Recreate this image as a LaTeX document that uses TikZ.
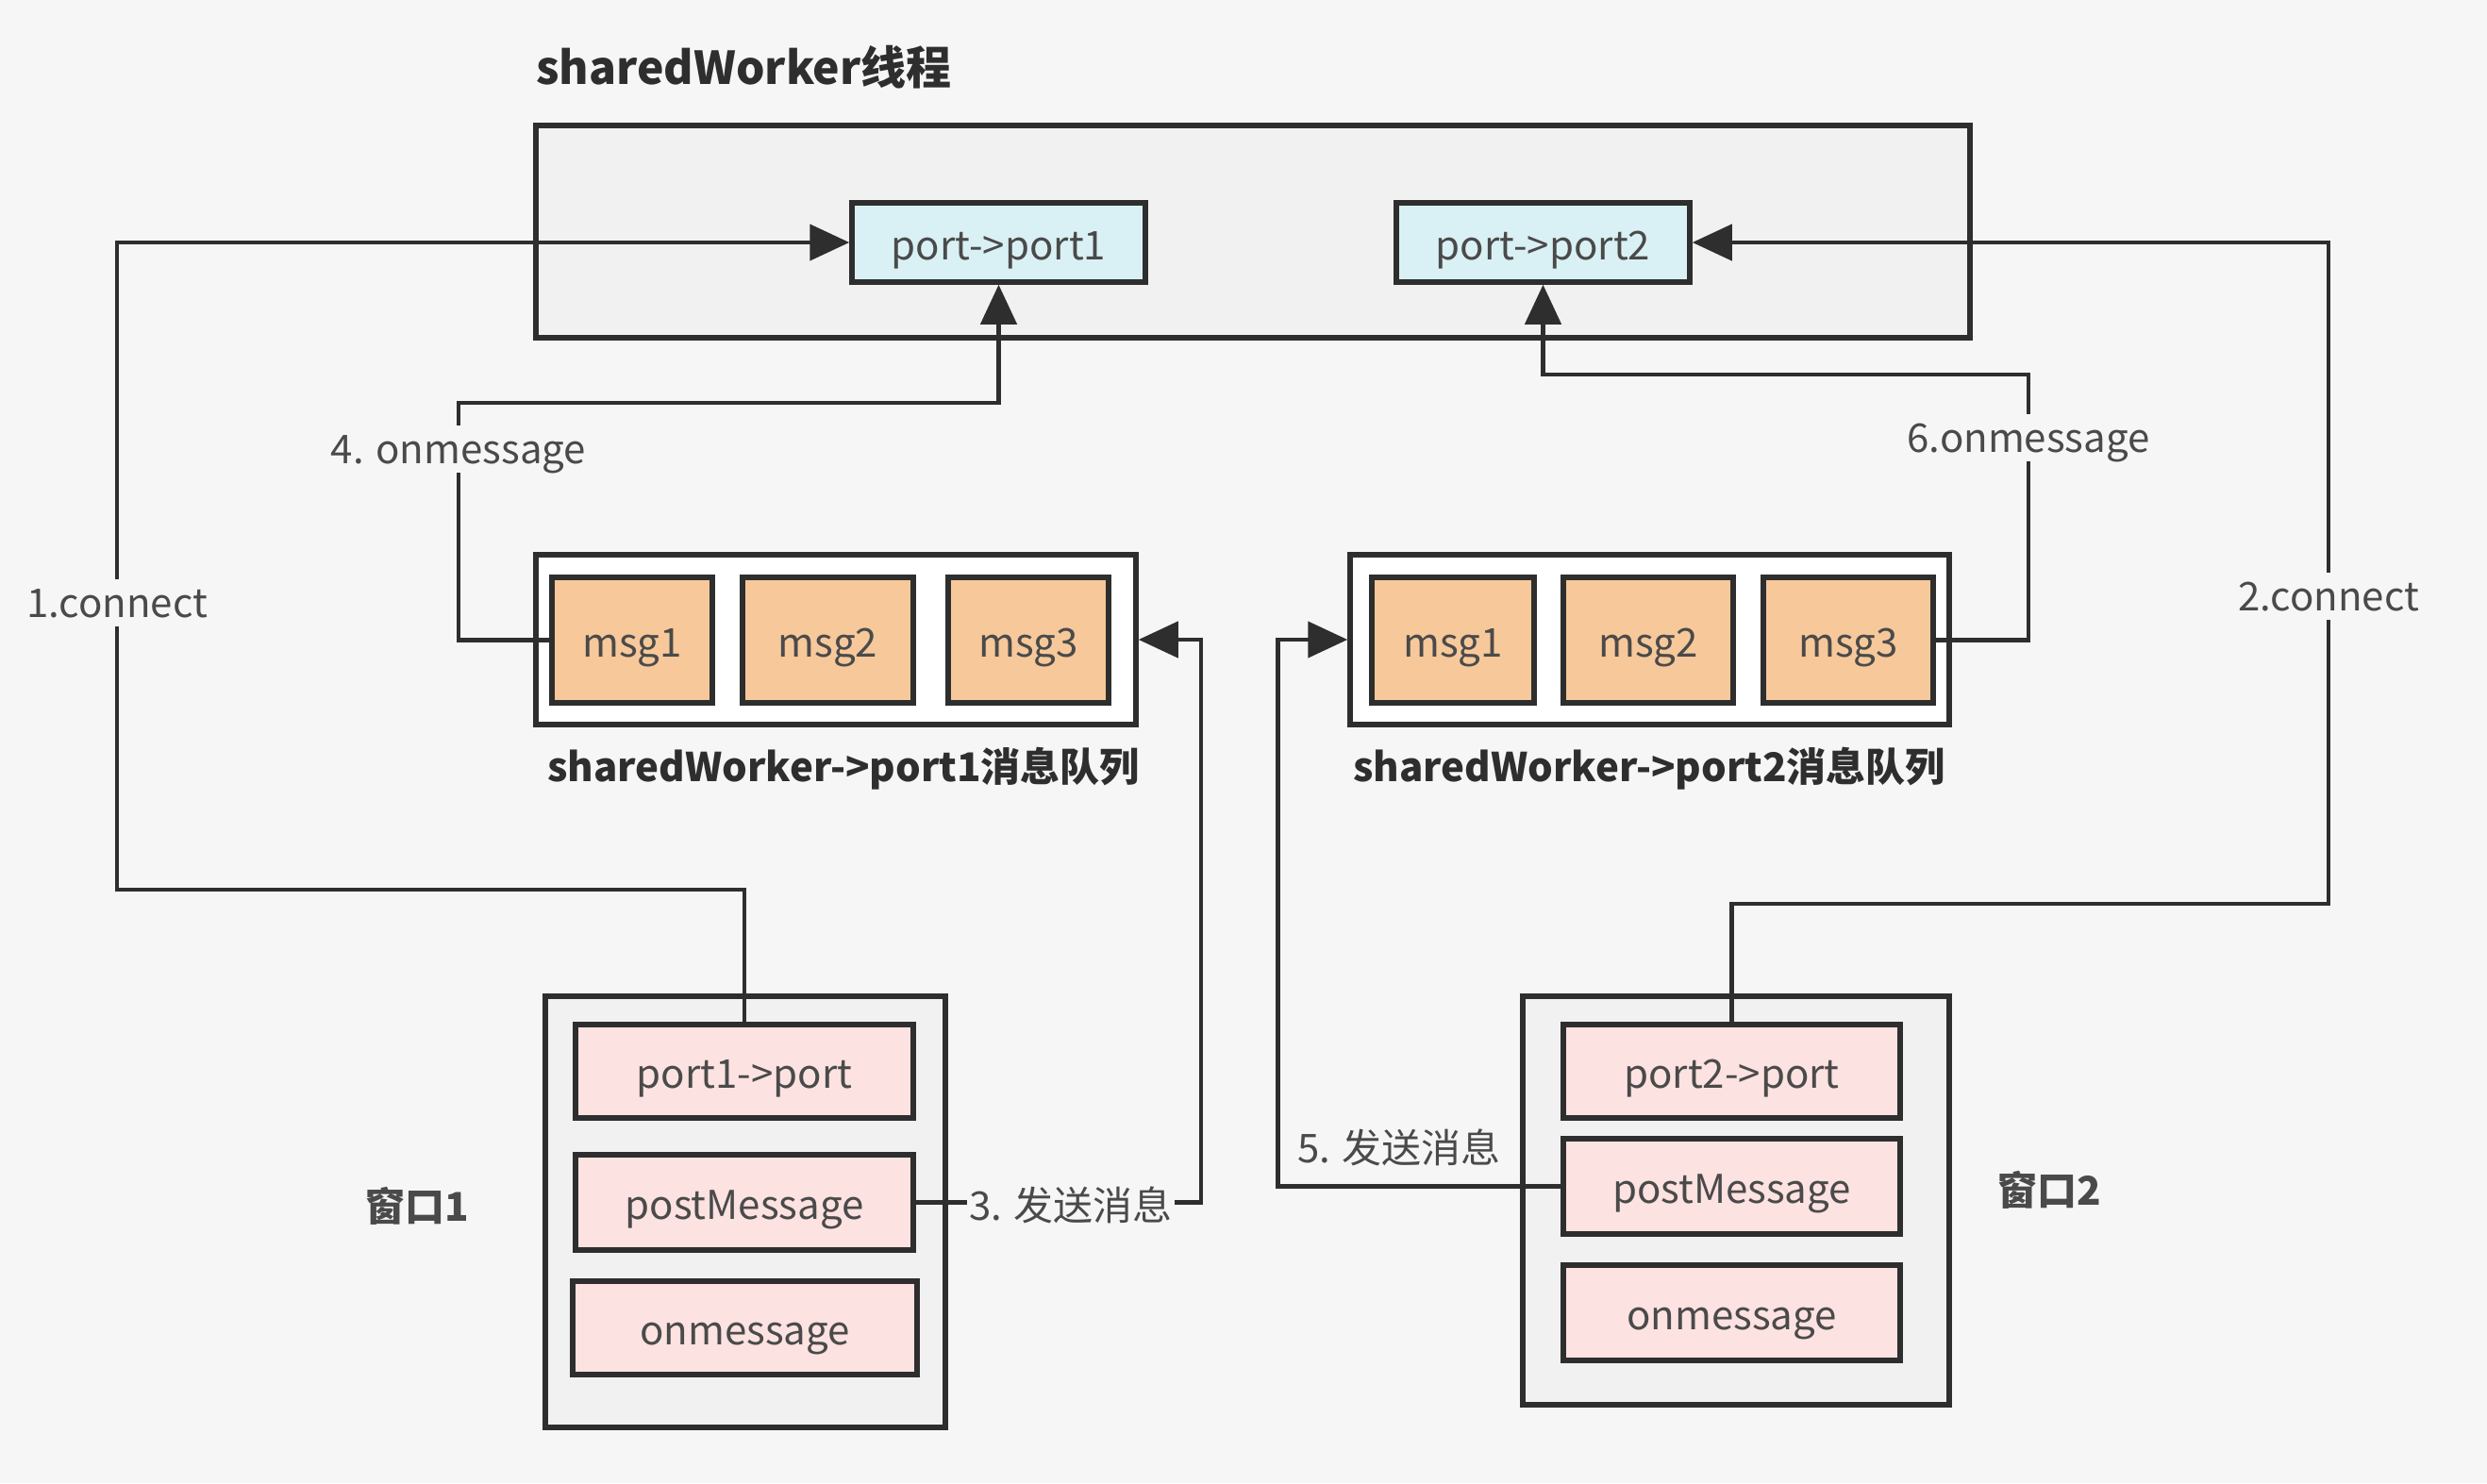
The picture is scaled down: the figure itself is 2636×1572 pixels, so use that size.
\documentclass[tikz,border=0pt]{standalone}
\usepackage{fontspec}
\setmainfont{Noto Sans CJK SC}
\usetikzlibrary{arrows.meta}
\definecolor{bg}{HTML}{F6F6F6}
\definecolor{ink}{HTML}{2E2E2E}
\definecolor{txt}{HTML}{4A4A4A}
\definecolor{portfill}{HTML}{D9F1F4}
\definecolor{msgfill}{HTML}{F7C89A}
\definecolor{winfill}{HTML}{FCE2E0}
\definecolor{groupfill}{HTML}{F1F1F1}
\tikzset{
  box/.style={draw=ink, line width=5.5pt, inner sep=0pt, text=txt,
    font=\fontsize{42}{50}\selectfont, text height=40pt, text depth=4pt},
  portbox/.style={box, fill=portfill, minimum width=311pt, minimum height=84pt},
  msgbox/.style={box, fill=msgfill, minimum width=170pt, minimum height=133pt},
  winitem/.style={box, fill=winfill, minimum width=358pt, minimum height=99pt},
  group/.style={draw=ink, line width=5.5pt, inner sep=0pt},
  conn/.style={draw=ink, line width=4.5pt},
  tip/.style={-{Triangle[length=42pt,width=38pt]}},
  lbl/.style={text=txt, font=\fontsize{42}{50}\selectfont, fill=bg, inner sep=4pt,
    text height=36pt, text depth=6pt},
  head/.style={text=ink, font=\fontsize{42}{50}\selectfont\bfseries, inner sep=0pt},
}
\begin{document}
\begin{tikzpicture}[x=1pt,y=-1pt]
\fill[bg] (0,0) rectangle (2636,1572);
\useasboundingbox (0,0) rectangle (2636,1572);

% shared worker thread
\node[head, anchor=west, font=\fontsize{48}{56}\selectfont\bfseries] (title) at (568,71) {sharedWorker线程};
\node[group, fill=groupfill, minimum width=1520pt, minimum height=225pt] (sw) at (1328,245.5) {};
\node[portbox] (sp1) at (1058.5,257) {port->port1};
\node[portbox] (sp2) at (1635.5,257) {port->port2};

% queue 1
\node[group, fill=white, minimum width=636pt, minimum height=180pt] (q1) at (886,678) {};
\node[msgbox] (m11) at (670,678.5) {msg1};
\node[msgbox, minimum width=181pt] (m12) at (877.5,678.5) {msg2};
\node[msgbox] (m13) at (1090,678.5) {msg3};
\node[head] (q1l) at (894,815) {sharedWorker->port1消息队列};

% queue 2
\node[group, fill=white, minimum width=635pt, minimum height=180pt] (q2) at (1748.5,678) {};
\node[msgbox, minimum width=172pt] (m21) at (1540,678.5) {msg1};
\node[msgbox, minimum width=180pt] (m22) at (1747,678.5) {msg2};
\node[msgbox, minimum width=180pt] (m23) at (1959,678.5) {msg3};
\node[head] (q2l) at (1748,815) {sharedWorker->port2消息队列};

% window 1
\node[group, fill=groupfill, minimum width=424pt, minimum height=457pt] (w1) at (790,1284.5) {};
\node[winitem] (w1port) at (789,1135.5) {port1->port};
\node[winitem, minimum height=101pt] (w1post) at (789,1274.5) {postMessage};
\node[winitem, minimum width=365pt] (w1on) at (789.5,1407.5) {onmessage};
\node[text=txt, font=\fontsize{42}{50}\selectfont\bfseries] (w1l) at (442,1278) {窗口1};

% window 2
\node[group, fill=groupfill, minimum width=452pt, minimum height=433pt] (w2) at (1840,1272.5) {};
\node[winitem, minimum width=357pt] (w2port) at (1835.5,1135.5) {port2->port};
\node[winitem, minimum width=357pt, minimum height=101pt] (w2post) at (1835.5,1257.5) {postMessage};
\node[winitem, minimum width=357pt, minimum height=101pt] (w2on) at (1835.5,1391.5) {onmessage};
\node[text=txt, font=\fontsize{42}{50}\selectfont\bfseries] (w2l) at (2172,1261) {窗口2};

% connectors
\draw[conn, tip] (w1port.north) |- (124,943) |- (sp1.west);
\node[lbl] (c1) at (124,639) {1.connect};

\draw[conn, tip] (w2port.north) |- (2468,958) |- (sp2.east);
\node[lbl] (c2) at (2468,632) {2.connect};

\draw[conn, tip] (w1post.east) -- (1273,1274.5) |- (q1.east);
\node[lbl, inner sep=2pt] (c3) at (1135,1278) {3. 发送消息};

\draw[conn, tip] (m11.west) -| (486,427) -| (sp1.south);
\node[lbl] (c4) at (486,476) {4. onmessage};

\draw[conn, tip] (w2post.west) -- ++(-300,0) |- (q2.west);
\node[lbl, fill=none] (c5) at (1483,1217) {5. 发送消息};

\draw[conn, tip] (m23.east) -| (2150,397) -| (sp2.south);
\node[lbl] (c6) at (2150,464) {6.onmessage};
\end{tikzpicture}
\end{document}
